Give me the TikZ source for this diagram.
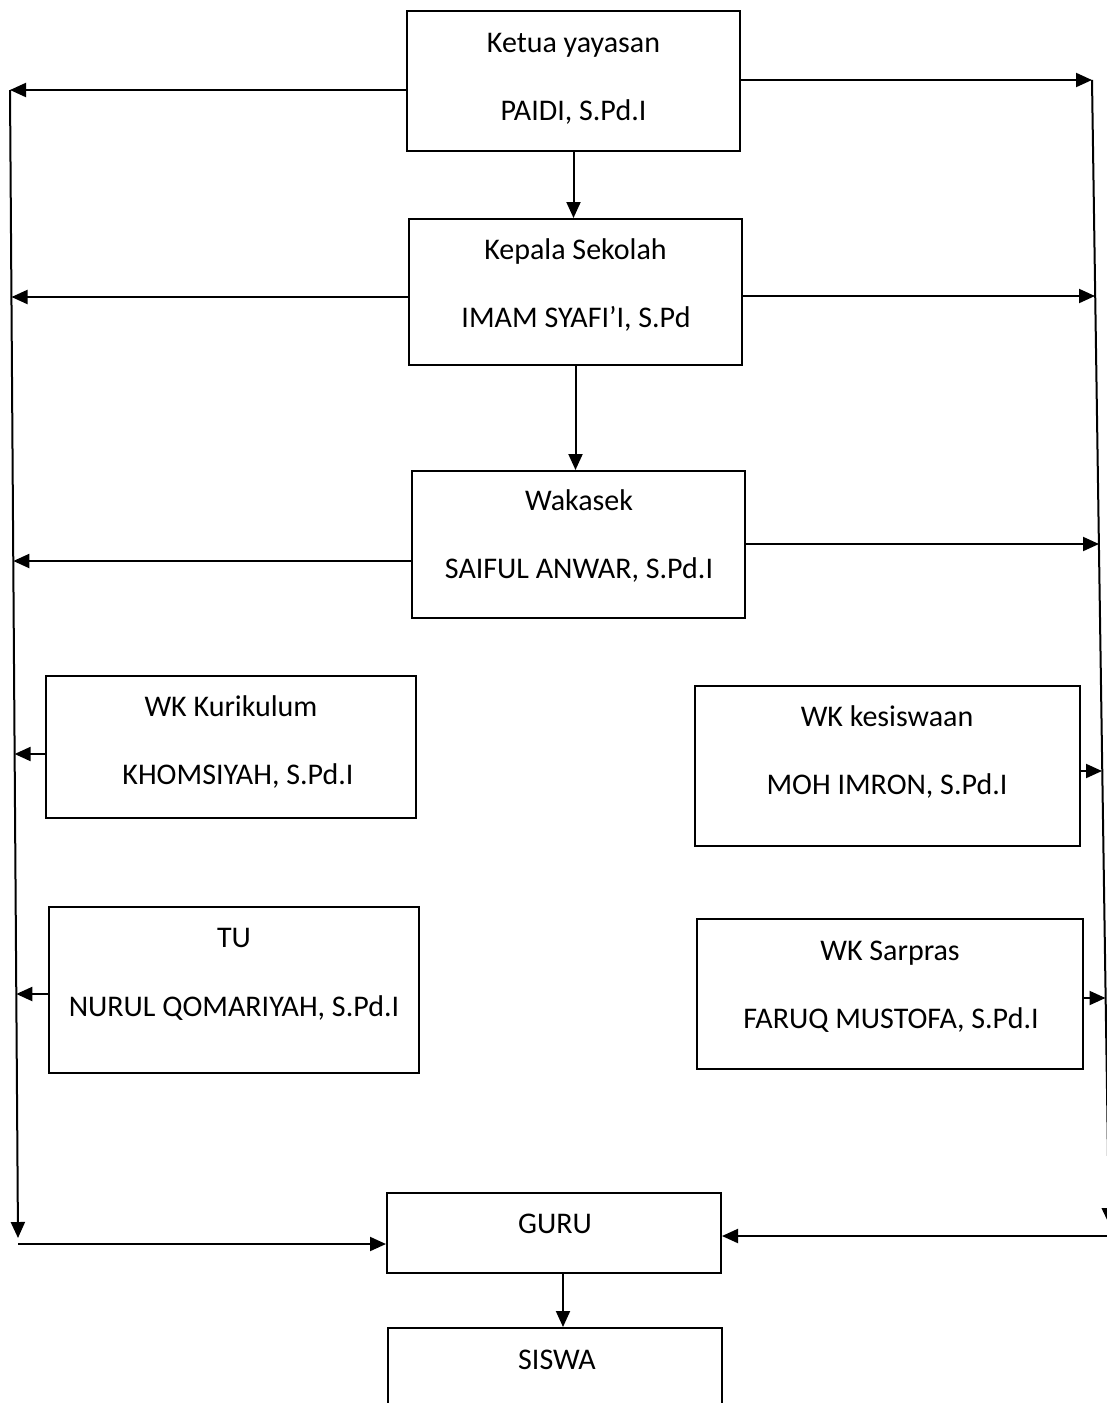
\documentclass[tikz,border=0pt]{standalone}
\usepackage{fontspec}
\setmainfont{Carlito}
\usetikzlibrary{arrows.meta}

\begin{document}
\begin{tikzpicture}[x=0.5pt, y=-0.5pt]
 \tikzstyle{kotak}=[rectangle, draw, line width=1pt, inner sep=0pt]
 \tikzstyle{teks}=[anchor=base, inner sep=0pt, font=\fontsize{15}{18}\selectfont]
 \tikzstyle{panah}=[-{Triangle[length=8pt, width=7pt]}, line width=1pt]
 \useasboundingbox (0,0) rectangle (1107,1403);
 %
 \node[kotak, minimum width=166.5pt, minimum height=70pt] (ketua) at (573.5, 81) {};
 \node[teks] (ketua1) at (573.5, 52) {Ketua yayasan};
 \node[teks] (ketua2) at (573.5, 120) {PAIDI, S.Pd.I};
 %
 \node[kotak, minimum width=166.5pt, minimum height=73pt] (kepala) at (575.5, 292) {};
 \node[teks] (kepala1) at (575.5, 259) {Kepala Sekolah};
 \node[teks] (kepala2) at (576, 327) {IMAM SYAFI’I, S.Pd};
 %
 \node[kotak, minimum width=166.5pt, minimum height=73.5pt] (wakasek) at (578.5, 544.5) {};
 \node[teks] (wakasek1) at (579, 510) {Wakasek};
 \node[teks] (wakasek2) at (579, 578) {SAIFUL ANWAR, S.Pd.I};
 %
 \node[kotak, minimum width=185pt, minimum height=71pt] (kurikulum) at (231, 747) {};
 \node[teks] (kurikulum1) at (231, 716) {WK Kurikulum};
 \node[teks] (kurikulum2) at (238, 784) {KHOMSIYAH, S.Pd.I};
 %
 \node[kotak, minimum width=185pt, minimum height=83pt] (tu) at (234, 990) {};
 \node[teks] (tu1) at (234, 947) {TU};
 \node[teks] (tu2) at (234, 1016) {NURUL QOMARIYAH, S.Pd.I};
 %
 \node[kotak, minimum width=192.5pt, minimum height=80pt] (kesiswaan) at (887.5, 766) {};
 \node[teks] (kesiswaan1) at (887, 726) {WK kesiswaan};
 \node[teks] (kesiswaan2) at (887, 794) {MOH IMRON, S.Pd.I};
 %
 \node[kotak, minimum width=193pt, minimum height=75pt] (sarpras) at (890, 994) {};
 \node[teks] (sarpras1) at (890, 960) {WK Sarpras};
 \node[teks] (sarpras2) at (891, 1028) {FARUQ MUSTOFA, S.Pd.I};
 %
 \node[kotak, minimum width=167pt, minimum height=40pt] (guru) at (554, 1233) {};
 \node[teks] (guru1) at (555, 1233) {GURU};
 \node[kotak, minimum width=167pt, minimum height=71pt] (siswa) at (555, 1399) {};
 \node[teks] (siswa1) at (557, 1369) {SISWA};
 %
 \coordinate (kiri1) at (10, 90);
 \coordinate (kiri2) at (11.5, 297);
 \coordinate (kiri3) at (13.3, 561);
 \coordinate (kiri4) at (14.6, 754);
 \coordinate (kiri5) at (16.3, 994);
 \coordinate (kiri6) at (18, 1238);
 \coordinate (kiri7) at (18, 1244);
 \coordinate (kanan1) at (1092, 80);
 \coordinate (kanan2) at (1095, 296);
 \coordinate (kanan3) at (1099, 544);
 \coordinate (kanan4) at (1102, 771);
 \coordinate (kanan5) at (1105.5, 998);
 \coordinate (kanan6) at (1109, 1224);
 \coordinate (kanan7) at (1110, 1236);
 %%
 \draw[panah] (ketua.south) -- (ketua.south |- kepala.north);
 \draw[panah] (kepala.south) -- (kepala.south |- wakasek.north);
 \draw[panah] ([xshift=4.5pt]guru.south) -- ([xshift=4.5pt]guru.south |- siswa.north);
 %
 \draw[panah] (ketua.west |- kiri1) -- (kiri1);
 \draw[panah] (kepala.west |- kiri2) -- (kiri2);
 \draw[panah] (wakasek.west |- kiri3) -- (kiri3);
 \draw[panah] (kurikulum.west |- kiri4) -- (kiri4);
 \draw[panah] (tu.west |- kiri5) -- (kiri5);
 \draw[panah] (kiri1) -- (kiri6);
 \draw[panah] (kiri7) -- (guru.west |- kiri7);
 %
 \draw[panah] (ketua.east |- kanan1) -- (kanan1);
 \draw[panah] (kepala.east |- kanan2) -- (kanan2);
 \draw[panah] (wakasek.east |- kanan3) -- (kanan3);
 \draw[panah] (kesiswaan.east |- kanan4) -- (kanan4);
 \draw[panah] (sarpras.east |- kanan5) -- (kanan5);
 \draw[panah] (kanan1) -- (kanan6);
 \draw[panah] (kanan7) -- (guru.east |- kanan7);
\end{tikzpicture}
\end{document}
